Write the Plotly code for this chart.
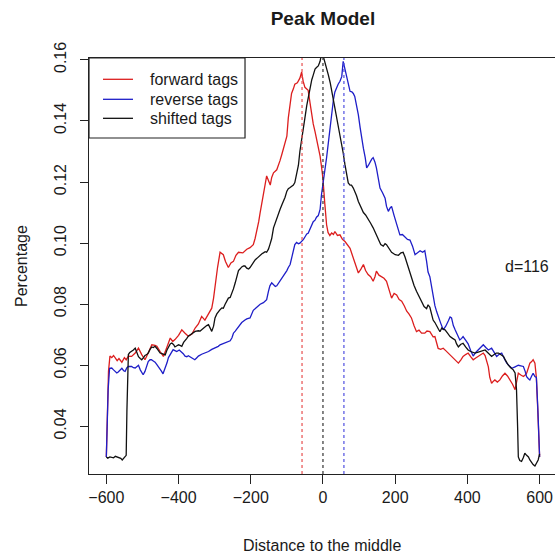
import plotly.graph_objects as go

# ---- data ----
fwd_x = [-600, -594, -590, -585, -580, -575, -570, -565, -557, -550, -545, -539, -530, -520, -511, -502, -493,
         -484, -474, -465, -460, -451, -442, -432, -423, -416, -410, -400, -391, -382, -373, -363, -354, -345,
         -336, -327, -317, -308, -303, -299, -292, -285, -280, -276, -270, -262, -255, -248, -241, -234, -222,
         -211, -202, -193, -188, -183, -178, -174, -169, -165, -160, -156, -151, -146, -142, -137, -128, -123,
         -119, -114, -110, -105, -100, -96, -91, -87, -82, -78, -71, -64, -59, -55, -50, -45, -41, -36, -32,
         -27, -22, -18, -13, -8, -4, 0, 5, 10, 14, 19, 24, 29, 33, 40, 47, 54, 61, 68, 75, 80, 84, 91, 98, 105,
         112, 118, 125, 132, 139, 144, 148, 155, 162, 169, 176, 183, 190, 197, 204, 211, 218, 225, 232, 238,
         245, 252, 259, 266, 273, 282, 288, 296, 305, 310, 319, 326, 333, 340, 347, 354, 361, 368, 375, 382,
         388, 395, 402, 409, 416, 423, 430, 437, 444, 449, 453, 458, 462, 467, 472, 476, 483, 490, 497, 504,
         511, 518, 525, 532, 536, 541, 548, 555, 560, 564, 569, 573, 578, 582, 587, 591, 595, 600]
fwd_y = [0.030, 0.058, 0.063, 0.0625, 0.0632, 0.0622, 0.0615, 0.0622, 0.061, 0.0625, 0.0618, 0.063, 0.0629,
         0.064, 0.0656, 0.0635, 0.0618, 0.064, 0.0667, 0.0665, 0.0662, 0.0645, 0.0629, 0.066, 0.0689, 0.0678,
         0.0684, 0.0698, 0.0716, 0.0705, 0.0695, 0.0702, 0.0722, 0.0735, 0.076, 0.0748, 0.0768, 0.0787, 0.082,
         0.086, 0.092, 0.097, 0.0965, 0.0962, 0.094, 0.092, 0.0935, 0.094, 0.096, 0.097, 0.0968, 0.098, 0.0985,
         0.0995, 0.1015, 0.104, 0.107, 0.110, 0.113, 0.116, 0.119, 0.122, 0.1205, 0.119, 0.1215, 0.123, 0.124,
         0.1255, 0.127, 0.129, 0.131, 0.1325, 0.135, 0.141, 0.1455, 0.149, 0.1505, 0.152, 0.1525, 0.154, 0.156,
         0.153, 0.151, 0.1505, 0.150, 0.146, 0.142, 0.139, 0.1365, 0.1345, 0.132, 0.1285, 0.125, 0.121, 0.113,
         0.106, 0.1035, 0.1025, 0.1033, 0.1028, 0.1038, 0.1025, 0.1027, 0.1012, 0.1005, 0.0995, 0.0983, 0.0965,
         0.0951, 0.0925, 0.0902, 0.0915, 0.093, 0.091, 0.0897, 0.089, 0.0875, 0.089, 0.0908, 0.0895, 0.089,
         0.0885, 0.0875, 0.085, 0.082, 0.0835, 0.083, 0.0815, 0.081, 0.0795, 0.0777, 0.0768, 0.0755, 0.073,
         0.071, 0.0715, 0.0705, 0.0705, 0.0712, 0.071, 0.0693, 0.0694, 0.0655, 0.0652, 0.0656, 0.0648, 0.064,
         0.0632, 0.0623, 0.0615, 0.0607, 0.0618, 0.0629, 0.0635, 0.064, 0.0628, 0.0618, 0.0624, 0.0629, 0.0635,
         0.064, 0.0632, 0.0618, 0.0595, 0.056, 0.0541, 0.0548, 0.0552, 0.0545, 0.0552, 0.0565, 0.0574, 0.0565,
         0.0552, 0.0538, 0.052, 0.0545, 0.0574, 0.0568, 0.0563, 0.0568, 0.0574, 0.0592, 0.0607, 0.0612, 0.0618,
         0.0607, 0.056, 0.045, 0.030]

rev_x = [-600, -595, -591, -585, -580, -576, -571, -567, -562, -557, -552, -548, -543, -539, -530, -525, -520,
         -515, -511, -506, -502, -498, -493, -488, -484, -479, -475, -470, -465, -460, -456, -451, -447, -443,
         -437, -432, -428, -421, -415, -410, -405, -398, -392, -387, -382, -377, -373, -368, -363, -359, -355,
         -350, -345, -336, -327, -322, -317, -308, -299, -290, -285, -276, -267, -262, -257, -252, -248, -243,
         -239, -234, -230, -225, -216, -211, -202, -197, -193, -188, -183, -174, -165, -160, -156, -151, -147,
         -142, -137, -132, -128, -119, -114, -110, -105, -100, -96, -91, -86, -82, -78, -73, -68, -64, -59, -54,
         -50, -45, -41, -36, -31, -27, -22, -18, -13, -8, -4, 0, 5, 10, 15, 20, 24, 29, 33, 38, 42, 47, 52, 56,
         59, 62, 66, 70, 75, 80, 84, 88, 93, 98, 103, 107, 112, 117, 121, 126, 130, 135, 139, 144, 148, 153, 158,
         165, 172, 176, 181, 186, 190, 197, 204, 209, 213, 220, 227, 234, 241, 248, 255, 262, 269, 276, 282, 287,
         291, 296, 301, 305, 310, 315, 319, 326, 333, 340, 347, 352, 356, 361, 366, 372, 379, 384, 388, 395, 402,
         409, 416, 423, 430, 437, 444, 451, 458, 467, 474, 481, 488, 495, 502, 509, 516, 523, 532, 541, 548, 555,
         560, 564, 569, 573, 578, 582, 587, 591, 595, 600]
rev_y = [0.030, 0.052, 0.059, 0.0591, 0.0585, 0.058, 0.0575, 0.0578, 0.0585, 0.059, 0.0582, 0.058, 0.0592,
         0.0596, 0.0596, 0.0592, 0.0591, 0.0598, 0.060, 0.0585, 0.0575, 0.0569, 0.058, 0.0598, 0.0612, 0.0618,
         0.0618, 0.0614, 0.061, 0.0602, 0.0596, 0.0588, 0.058, 0.0572, 0.059, 0.0608, 0.0625, 0.064, 0.0651,
         0.0648, 0.0645, 0.065, 0.0645, 0.0638, 0.063, 0.0628, 0.0631, 0.0628, 0.0625, 0.062, 0.0618, 0.0624,
         0.063, 0.0636, 0.064, 0.0642, 0.0645, 0.0652, 0.0656, 0.0662, 0.0667, 0.0672, 0.0675, 0.0678, 0.068,
         0.069, 0.0705, 0.0712, 0.0718, 0.0725, 0.073, 0.074, 0.0748, 0.0752, 0.0755, 0.077, 0.078, 0.0785,
         0.079, 0.080, 0.0805, 0.081, 0.0815, 0.0842, 0.086, 0.087, 0.0862, 0.0858, 0.086, 0.0875, 0.0885,
         0.089, 0.0898, 0.091, 0.092, 0.093, 0.0955, 0.0975, 0.0995, 0.1002, 0.0998, 0.1, 0.1005, 0.1012, 0.102,
         0.103, 0.1032, 0.1045, 0.106, 0.107, 0.1075, 0.1085, 0.109, 0.111, 0.116, 0.119, 0.124, 0.128, 0.133,
         0.138, 0.143, 0.147, 0.1495, 0.1512, 0.152, 0.153, 0.1545, 0.1595, 0.158, 0.156, 0.154, 0.1525, 0.1497,
         0.1495, 0.149, 0.148, 0.1455, 0.142, 0.1377, 0.134, 0.131, 0.128, 0.1246, 0.1255, 0.1265, 0.1275, 0.128,
         0.1265, 0.1246, 0.1215, 0.118, 0.1165, 0.1147, 0.112, 0.1104, 0.1115, 0.112, 0.109, 0.106, 0.104,
         0.1027, 0.1028, 0.102, 0.1012, 0.101, 0.099, 0.0962, 0.0968, 0.0975, 0.097, 0.0975, 0.094, 0.0905,
         0.089, 0.0855, 0.0835, 0.0795, 0.0775, 0.076, 0.0738, 0.0716, 0.0728, 0.0745, 0.0758, 0.0755, 0.073,
         0.0716, 0.0698, 0.0683, 0.0688, 0.0694, 0.0682, 0.067, 0.0648, 0.063, 0.0642, 0.065, 0.066, 0.0667,
         0.0658, 0.065, 0.0656, 0.0642, 0.0629, 0.0636, 0.064, 0.0622, 0.0607, 0.0598, 0.059, 0.0595, 0.060,
         0.0598, 0.0596, 0.058, 0.0563, 0.0556, 0.0552, 0.0565, 0.0574, 0.0563, 0.056, 0.046, 0.030]

shift_x = [-600, -596, -590, -585, -580, -575, -570, -565, -560, -556, -552, -548, -545, -543, -541, -539, -535,
           -530, -525, -520, -515, -511, -506, -502, -497, -493, -488, -484, -479, -474, -470, -465, -460, -455,
           -451, -446, -442, -437, -432, -428, -423, -419, -414, -410, -405, -400, -396, -391, -386, -382, -377,
           -373, -368, -363, -359, -354, -345, -340, -336, -331, -327, -322, -317, -312, -308, -303, -299, -294,
           -290, -285, -280, -276, -271, -266, -262, -257, -252, -248, -243, -239, -234, -230, -225, -220, -216,
           -211, -206, -202, -197, -193, -188, -183, -179, -174, -169, -165, -160, -156, -151, -147, -142, -137,
           -133, -128, -124, -119, -114, -110, -105, -100, -96, -91, -87, -82, -78, -73, -68, -64, -59, -54, -50,
           -45, -41, -36, -31, -27, -22, -18, -13, -8, -4, 0, 5, 10, 15, 20, 24, 29, 33, 38, 42, 47, 52, 56, 61,
           66, 70, 75, 79, 84, 88, 93, 98, 105, 112, 118, 125, 132, 139, 146, 153, 160, 167, 172, 176, 183, 190,
           200, 209, 216, 222, 227, 232, 238, 245, 252, 259, 266, 273, 280, 287, 291, 296, 301, 305, 310, 315,
           320, 324, 329, 333, 338, 345, 352, 359, 366, 370, 375, 381, 388, 395, 402, 409, 416, 421, 428, 435,
           442, 449, 456, 462, 467, 474, 480, 486, 493, 500, 506, 513, 520, 527, 532, 536, 539, 541, 545, 550,
           555, 559, 564, 569, 573, 578, 582, 587, 591, 596, 600]
shift_y = [0.030, 0.0296, 0.030, 0.0298, 0.0297, 0.0302, 0.0300, 0.0298, 0.0295, 0.0290, 0.0297, 0.0302,
           0.0305, 0.045, 0.060, 0.0635, 0.0642, 0.0645, 0.0650, 0.0656, 0.0642, 0.0628, 0.0622, 0.0618, 0.0625,
           0.0632, 0.0635, 0.064, 0.0652, 0.066, 0.0658, 0.0662, 0.0655, 0.0645, 0.064, 0.0638, 0.0636, 0.0634,
           0.065, 0.066, 0.067, 0.0673, 0.0668, 0.066, 0.0665, 0.0667, 0.0665, 0.0662, 0.0675, 0.068, 0.0688,
           0.0695, 0.070, 0.0702, 0.0708, 0.0711, 0.0713, 0.0712, 0.0716, 0.0722, 0.0725, 0.073, 0.0733, 0.0722,
           0.0711, 0.0728, 0.0755, 0.0768, 0.0775, 0.0782, 0.0788, 0.0787, 0.080, 0.0812, 0.082, 0.0822, 0.0835,
           0.085, 0.087, 0.0885, 0.091, 0.0915, 0.0922, 0.0925, 0.0925, 0.0918, 0.0915, 0.092, 0.093, 0.0935,
           0.0945, 0.095, 0.0955, 0.096, 0.0965, 0.0968, 0.0972, 0.097, 0.098, 0.0995, 0.1015, 0.105, 0.1065,
           0.108, 0.1095, 0.111, 0.1125, 0.1135, 0.115, 0.117, 0.1178, 0.1182, 0.1185, 0.119, 0.1198, 0.123,
           0.1255, 0.130, 0.1335, 0.137, 0.141, 0.145, 0.1475, 0.151, 0.1535, 0.155, 0.157, 0.1575, 0.158, 0.1595,
           0.162, 0.1615, 0.1595, 0.1575, 0.155, 0.1525, 0.150, 0.1475, 0.145, 0.142, 0.139, 0.136, 0.133,
           0.1295, 0.1256, 0.1225, 0.1197, 0.119, 0.119, 0.118, 0.117, 0.1155, 0.1136, 0.112, 0.110, 0.1092,
           0.108, 0.1065, 0.105, 0.103, 0.101, 0.0995, 0.099, 0.0998, 0.0995, 0.098, 0.097, 0.0962, 0.096, 0.0968,
           0.097, 0.0955, 0.0935, 0.091, 0.0886, 0.0862, 0.0842, 0.0825, 0.081, 0.0792, 0.0785, 0.0798, 0.079,
           0.077, 0.0748, 0.074, 0.0727, 0.0718, 0.071, 0.0722, 0.0718, 0.0716, 0.0705, 0.0694, 0.0688, 0.0683,
           0.067, 0.066, 0.0668, 0.0672, 0.066, 0.065, 0.0645, 0.0642, 0.064, 0.0642, 0.0645, 0.0648, 0.065,
           0.0642, 0.0635, 0.0629, 0.0635, 0.064, 0.064, 0.0635, 0.0629, 0.0615, 0.0601, 0.0592, 0.0585, 0.0575,
           0.052, 0.040, 0.030, 0.0288, 0.0285, 0.0298, 0.0312, 0.0305, 0.030, 0.029, 0.028, 0.0275, 0.027,
           0.0278, 0.029, 0.031]

peak_lines = [(-58, "#e85050"), (0, "#333333"), (58, "#5050e0")]
series_names = ["forward tags", "reverse tags", "shifted tags"]
series_colors = ["#dc1e1e", "#1e1ec8", "#111111"]
x_ticks = [-600, -400, -200, 0, 200, 400, 600]
y_ticks = [0.04, 0.06, 0.08, 0.10, 0.12, 0.14, 0.16]
d_label = "d=116"

FONT = "Liberation Sans, Arial, sans-serif"
TXT = "#1a1a1a"

fig = go.Figure()
for (xs, ys), name, col in zip([(fwd_x, fwd_y), (rev_x, rev_y), (shift_x, shift_y)], series_names, series_colors):
    fig.add_trace(go.Scatter(x=xs, y=ys, mode="lines", name=name,
                             line=dict(color=col, width=1.3), showlegend=False))

for xv, col in peak_lines:
    fig.add_shape(type="line", xref="x", yref="paper", x0=xv, x1=xv, y0=0, y1=1,
                  line=dict(color=col, width=1.2, dash="3px,3px"), layer="above")

# legend drawn as a framed box (R style)
fig.add_shape(type="rect", xref="paper", yref="paper", x0=0, x1=0.3348, y0=0.8077, y1=1,
              line=dict(color="#222", width=1.2), fillcolor="white", layer="below")
legend_rows = [0.9488, 0.9007, 0.855]
for yy, name, col in zip(legend_rows, series_names, series_colors):
    fig.add_shape(type="line", xref="paper", yref="paper", x0=0.030, x1=0.0944, y0=yy, y1=yy,
                  line=dict(color=col, width=1.3))
    fig.add_annotation(x=0.1266, y=yy, xref="paper", yref="paper", text=name, showarrow=False,
                       xanchor="left", yanchor="middle", font=dict(family=FONT, size=16, color=TXT))

fig.add_annotation(x=565, y=0.0923, xref="x", yref="y", text=d_label, showarrow=False,
                   font=dict(family=FONT, size=16, color=TXT))
fig.add_annotation(x=0.5, y=-0.1707, xref="paper", yref="paper", text="Distance to the middle",
                   showarrow=False, yanchor="middle", font=dict(family=FONT, size=16, color=TXT))
fig.add_annotation(x=-0.146, y=0.5, xref="paper", yref="paper", text="Percentage", textangle=-90,
                   showarrow=False, xanchor="center", yanchor="middle",
                   font=dict(family=FONT, size=16, color=TXT))

fig.update_layout(
    width=555, height=555, autosize=False,
    margin=dict(l=89, r=0, t=58, b=81, pad=0),
    paper_bgcolor="white", plot_bgcolor="white",
    title=dict(text="<b>Peak Model</b>", x=0.502, xref="paper", xanchor="center",
               y=1 - 18.5 / 555, yref="container", yanchor="middle",
               font=dict(family=FONT, size=19, color=TXT)),
    showlegend=False,
    font=dict(family=FONT, size=16, color=TXT),
)
fig.update_xaxes(range=[-648, 642.6], tickvals=x_ticks, ticktext=[("\u2212" + str(-v)) if v < 0 else str(v) for v in x_ticks],
                 showgrid=False, zeroline=False, showline=True, mirror=True, linecolor="#222", linewidth=1.2,
                 ticks="outside", ticklen=9, tickcolor="#222", tickwidth=1.2,
                 tickfont=dict(family=FONT, size=16, color=TXT))
fig.update_yaxes(range=[0.0244, 0.1606], tickvals=y_ticks, ticktext=["%.2f" % v for v in y_ticks],
                 showgrid=False, zeroline=False, showline=True, mirror=False, linecolor="#222", linewidth=1.2,
                 ticks="outside", ticklen=8, tickcolor="#222", tickwidth=1.2, tickangle=-90,
                 ticklabelstandoff=8, tickfont=dict(family=FONT, size=16, color=TXT))

fig.write_html("out.html")
